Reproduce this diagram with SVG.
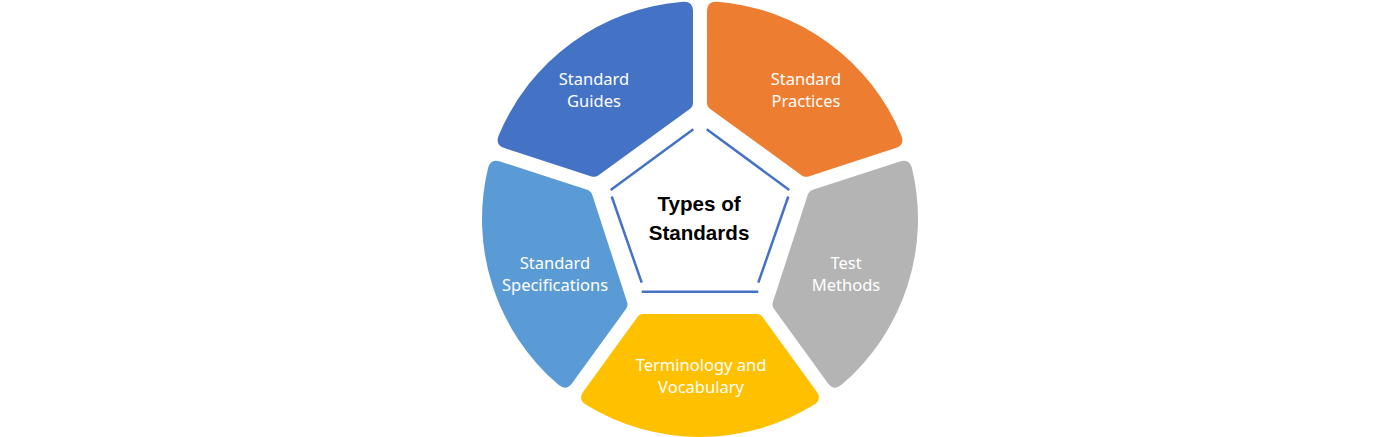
<svg xmlns="http://www.w3.org/2000/svg" width="1400" height="437" viewBox="0 0 1400 437">
  <defs>
    <path id="seg" d="M -56.38,-95 Q -60.38,-95 -62.73,-98.24 L -116.6,-172.4 Q -122.4,-180.4 -114.0,-185.8 A 218 218 0 0 1 114.0,-185.8 Q 122.4,-180.4 116.6,-172.4 L 62.73,-98.24 Q 60.38,-95 56.38,-95 Z"/>
  </defs>
  <style>
    .lbl { font-family: "Noto Sans", "Open Sans", sans-serif; font-size: 16.5px; fill: #ffffff; text-anchor: middle; }
    .title { font-family: "Liberation Sans", Arial, sans-serif; font-size: 20.6px; font-weight: bold; fill: #000000; text-anchor: middle; }
    .edge { stroke: #4472C4; stroke-width: 2.5; fill: none; }
  </style>
  <rect width="1400" height="437" fill="#ffffff"/>

  <g id="guides">
    <use href="#seg" transform="translate(700,219) rotate(-36)" fill="#4472C4"/>
    <text class="lbl" x="594" y="85">Standard</text>
    <text class="lbl" x="594" y="107">Guides</text>
  </g>
  <g id="practices">
    <use href="#seg" transform="translate(700,219) rotate(36)" fill="#ED7D31"/>
    <text class="lbl" x="806" y="85">Standard</text>
    <text class="lbl" x="806" y="107">Practices</text>
  </g>
  <g id="test-methods">
    <use href="#seg" transform="translate(700,219) rotate(108)" fill="#B4B4B4"/>
    <text class="lbl" x="846" y="269">Test</text>
    <text class="lbl" x="846" y="291">Methods</text>
  </g>
  <g id="terminology">
    <use href="#seg" transform="translate(700,219) rotate(180)" fill="#FFC000"/>
    <text class="lbl" x="701" y="371">Terminology and</text>
    <text class="lbl" x="701" y="393">Vocabulary</text>
  </g>
  <g id="specifications">
    <use href="#seg" transform="translate(700,219) rotate(252)" fill="#5B9BD5"/>
    <text class="lbl" x="555" y="269">Standard</text>
    <text class="lbl" x="555" y="291">Specifications</text>
  </g>

  <g id="center">
    <g id="connectors">
      <line class="edge" x1="610.7" y1="190" x2="693.3" y2="129.3"/>
      <line class="edge" x1="706.7" y1="129.3" x2="789.3" y2="190"/>
      <line class="edge" x1="788.3" y1="196.5" x2="758.3" y2="282.7"/>
      <line class="edge" x1="641.7" y1="291.7" x2="758.3" y2="291.7"/>
      <line class="edge" x1="611.7" y1="196.5" x2="641.7" y2="282.7"/>
    </g>
    <text class="title" x="699" y="211">Types of</text>
    <text class="title" x="699" y="240">Standards</text>
  </g>
</svg>
